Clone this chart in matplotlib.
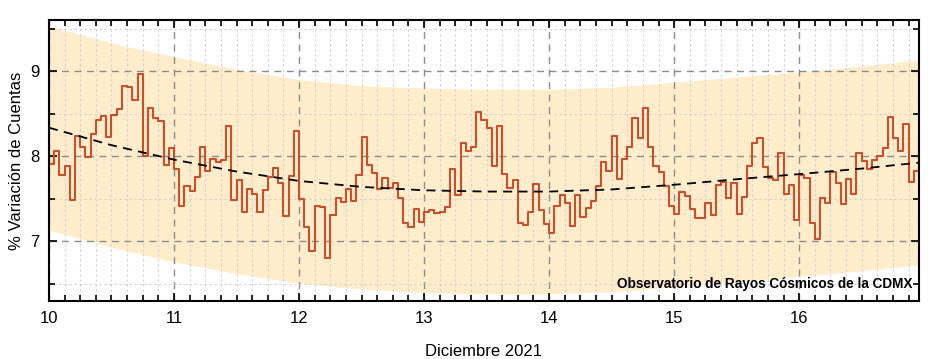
import numpy as np
import matplotlib
matplotlib.use("Agg")
import matplotlib.pyplot as plt
from matplotlib.ticker import MultipleLocator

plt.rcParams['font.family'] = ['Liberation Sans', 'DejaVu Sans']

# Hourly % count variation, 10-16 Dec 2021 (24 values per day)
dia_10 = [7.905, 8.065, 7.78, 7.89, 7.49, 8.24, 8.11, 7.99, 8.265, 8.425, 8.47, 8.23,
          8.49, 8.56, 8.82, 8.81, 8.66, 8.96, 8.00, 8.57, 8.45, 8.41, 7.90, 8.10]
dia_11 = [7.85, 7.42, 7.655, 7.59, 7.76, 8.105, 7.83, 7.97, 7.93, 7.96, 8.355, 7.49,
          7.725, 7.34, 7.62, 7.56, 7.34, 7.60, 7.76, 7.86, 7.68, 7.30, 7.77, 8.30]
dia_12 = [7.50, 7.165, 6.89, 7.41, 7.40, 6.81, 7.31, 7.51, 7.46, 7.61, 7.47, 7.78,
          8.23, 7.90, 7.80, 7.615, 7.75, 7.63, 7.68, 7.51, 7.22, 7.17, 7.38, 7.23]
dia_13 = [7.34, 7.37, 7.33, 7.34, 7.40, 7.85, 7.545, 8.16, 8.065, 8.105, 8.52, 8.42,
          8.335, 7.88, 8.36, 7.79, 7.63, 7.72, 7.22, 7.19, 7.34, 7.67, 7.37, 7.21]
dia_14 = [7.10, 7.42, 7.55, 7.455, 7.18, 7.54, 7.29, 7.39, 7.47, 7.655, 7.93, 7.83,
          8.24, 7.73, 7.97, 8.11, 8.45, 8.22, 8.57, 8.11, 7.88, 7.815, 7.655, 7.42]
dia_15 = [7.32, 7.58, 7.53, 7.38, 7.28, 7.28, 7.45, 7.31, 7.66, 7.70, 7.51, 7.68,
          7.32, 7.52, 7.89, 8.16, 8.22, 7.87, 7.74, 7.72, 8.04, 7.56, 7.66, 7.25]
dia_16 = [7.78, 7.74, 7.22, 7.03, 7.51, 7.455, 7.82, 7.69, 7.44, 7.73, 7.56, 8.04,
          7.94, 7.85, 7.955, 8.00, 8.10, 8.46, 8.22, 8.06, 8.38, 7.70, 7.83, 8.24]

# Trend curve and band, read every half day
dias_tend = [10, 10.5, 11, 11.5, 12, 12.5, 13, 13.5, 14, 14.5, 15, 15.5, 16, 16.5, 16.96]
tendencia = [8.335, 8.13, 7.96, 7.82, 7.71, 7.64, 7.60, 7.585, 7.585, 7.61, 7.665,
             7.73, 7.79, 7.855, 7.925]
banda_sup = [9.53, 9.33, 9.17, 9.02, 8.90, 8.83, 8.80, 8.785, 8.785, 8.81, 8.87,
             8.93, 8.99, 9.06, 9.13]
banda_inf = [7.135, 6.93, 6.76, 6.62, 6.51, 6.44, 6.40, 6.385, 6.385, 6.41, 6.465,
             6.53, 6.59, 6.655, 6.725]

dias = [10, 11, 12, 13, 14, 15, 16]

valores = np.array(dia_10 + dia_11 + dia_12 + dia_13 + dia_14 + dia_15 + dia_16)
t = 10 + np.arange(len(valores)) / 24.0

fig = plt.figure(figsize=(9.31, 3.59), dpi=100)
ax = fig.add_axes([0.0526, 0.1616, 0.9345, 0.7827])

ax.fill_between(dias_tend, banda_inf, banda_sup, color='#feecca', lw=0, zorder=1)
ax.plot(dias_tend, tendencia, color='black', ls=(0, (5, 3.5)), lw=1.3, zorder=3)
ax.step(t, valores, where='post', color='#c9502c', lw=1.5, zorder=2)

ax.set_xlim(10, t[-1])
ax.set_ylim(6.3, 9.6)
ax.set_xticks(dias)
ax.set_xticklabels([str(d) for d in dias])
ax.xaxis.set_minor_locator(MultipleLocator(0.125))
ax.yaxis.set_major_locator(MultipleLocator(1))
ax.yaxis.set_minor_locator(MultipleLocator(0.5))

ax.grid(which='major', color='#8c8c8c', ls=(0, (5, 4)), lw=1.0)
ax.grid(which='minor', color='#d0d0d0', ls=(0, (2, 2.5)), lw=0.8)
ax.tick_params(which='both', direction='in', top=True, right=True,
               labelsize=12, width=1.2, color='black')
ax.tick_params(which='major', length=6, pad=7)
ax.tick_params(which='minor', length=4)
for s in ax.spines.values():
    s.set_linewidth(1.5)

ax.set_xlabel('Diciembre 2021', fontsize=12, labelpad=13)
ax.set_ylabel('% Variación de Cuentas', fontsize=12, labelpad=4)

ax.text(0.992, 0.06, 'Observatorio de Rayos Cósmicos de la CDMX', transform=ax.transAxes,
        ha='right', va='center', fontsize=9.8, fontweight='bold', zorder=5)

fig.savefig('out.png', dpi=100)
